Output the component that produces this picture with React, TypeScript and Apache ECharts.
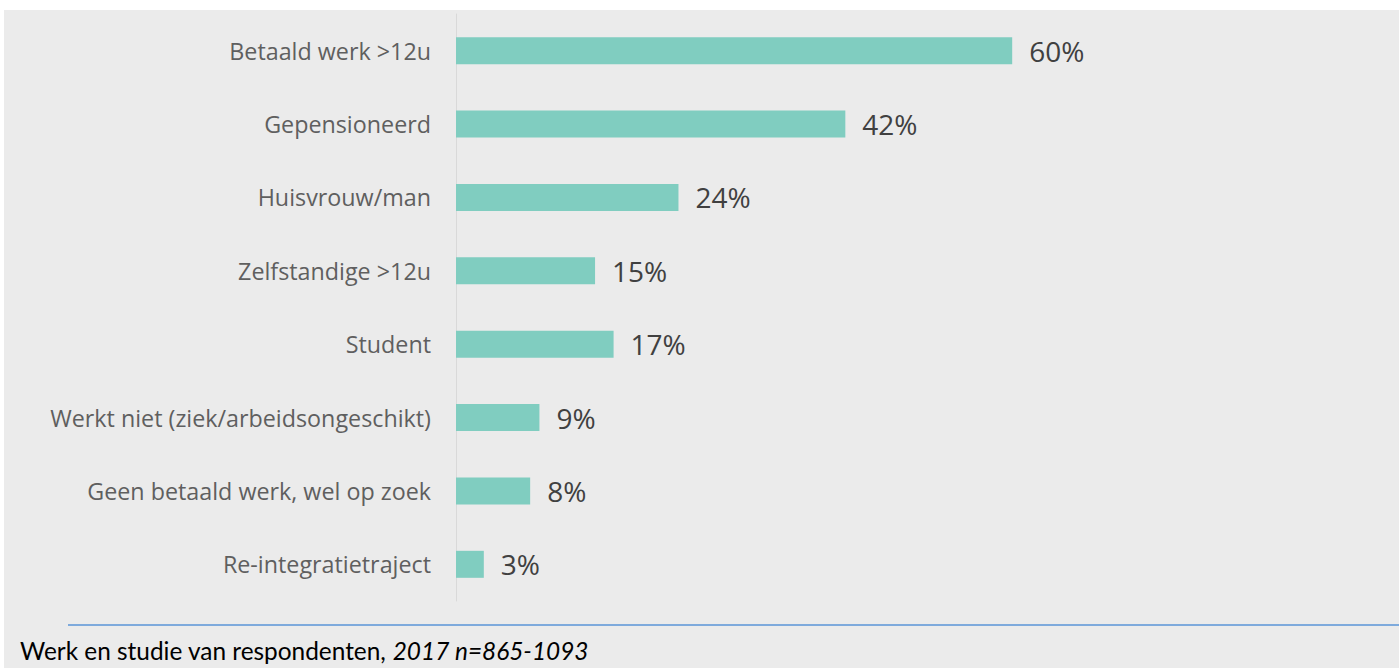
import React, { useEffect, useRef } from "react";
import * as echarts from "echarts";

const categories = [
  "Betaald werk >12u",
  "Gepensioneerd",
  "Huisvrouw/man",
  "Zelfstandige >12u",
  "Student",
  "Werkt niet (ziek/arbeidsongeschikt)",
  "Geen betaald werk, wel op zoek",
  "Re-integratietraject",
];
const values = [60, 42, 24, 15, 17, 9, 8, 3];
const captionMain = "Werk en studie van respondenten, ";
const captionItalic = "2017 n=865-1093";

export default function App() {
  const ref = useRef<HTMLDivElement>(null);
  useEffect(() => {
    const chart = echarts.init(ref.current!, null, { renderer: "svg" });
    chart.setOption({
      animation: false,
      backgroundColor: "#ffffff",
      graphic: [
        {
          type: "rect",
          z: -10,
          shape: { x: 4, y: 10, width: 1395, height: 658 },
          style: { fill: "#ebebeb" },
          silent: true,
        },
        {
          type: "line",
          shape: { x1: 68, y1: 625, x2: 1399, y2: 625 },
          style: { stroke: "#7eaadc", lineWidth: 2 },
        },
        {
          type: "text",
          x: 20,
          y: 650,
          style: {
            text: "{a|" + captionMain + "}{b|" + captionItalic + "}",
            verticalAlign: "middle",
            rich: {
              a: { fontFamily: "Lato", fontSize: 24.4, fill: "#000000" },
              b: { fontFamily: "Lato", fontSize: 24.4, fontStyle: "italic", fill: "#000000" },
            },
          },
        },
      ],
      grid: { left: 456, top: 14, width: 927, height: 587, containLabel: false },
      xAxis: {
        type: "value",
        min: 0,
        max: 100,
        show: false,
      },
      yAxis: {
        type: "category",
        inverse: true,
        data: categories,
        axisLine: { show: true, lineStyle: { color: "#d9d9d9", width: 1 } },
        axisTick: { show: false },
        axisLabel: {
          margin: 25,
          fontFamily: "Open Sans",
          fontSize: 23.3,
          color: "#5f5f5f",
        },
      },
      series: [
        {
          type: "bar",
          data: values,
          barWidth: 27,
          itemStyle: { color: "#80cdc0" },
          label: {
            show: true,
            position: "right",
            distance: 17,
            formatter: "{c}%",
            fontFamily: "Open Sans",
            fontSize: 28,
            color: "#404040",
          },
        },
      ],
    });
    return () => chart.dispose();
  }, []);
  return (
    <div
      ref={ref}
      style={{ position: "fixed", left: 0, top: 0, width: 1399, height: 668 }}
    />
  );
}
